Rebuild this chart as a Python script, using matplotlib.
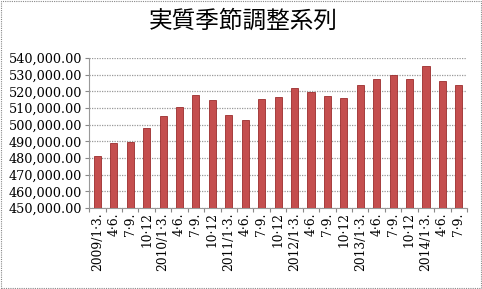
import matplotlib.pyplot as plt
from matplotlib.patches import Rectangle
from matplotlib.ticker import FuncFormatter

# 四半期ラベル
quarters = ["2009/1·3.", "4·6.", "7·9.", "10·12",
            "2010/1·3.", "4·6.", "7·9.", "10·12",
            "2011/1·3.", "4·6.", "7·9.", "10·12",
            "2012/1·3.", "4·6.", "7·9.", "10·12",
            "2013/1·3.", "4·6.", "7·9.", "10·12",
            "2014/1·3.", "4·6.", "7·9."]
values = [481200, 489000, 489600, 498000, 505200, 510600, 517800, 514800,
          505600, 502600, 515600, 516400, 522200, 519600, 517000, 516000,
          523800, 527600, 529600, 527600, 535200, 526000, 523800]
title = "実質季節調整系列"

fig = plt.figure(figsize=(4.82, 2.89), dpi=100)
ax = fig.add_axes([0.185, 0.280, 0.784, 0.519])

x = list(range(len(values)))
ax.bar(x, values, width=0.43, color='#C44E4E', edgecolor='#9B2D2D', linewidth=0.6, zorder=3)

ax.set_ylim(450000, 540000)
ax.set_yticks(range(450000, 540001, 10000))
ax.yaxis.set_major_formatter(FuncFormatter(lambda v, p: f"{v:,.2f}"))
ax.set_xlim(-0.5, len(values) - 0.5)

# 目盛は区切り位置、ラベルは中央
ax.set_xticks([i - 0.5 for i in range(len(values) + 1)])
ax.set_xticklabels([])
ax.set_xticks(x, minor=True)
ax.set_xticklabels(quarters, minor=True, rotation=90, family='DejaVu Serif', fontsize=8.8)
ax.tick_params(axis='x', which='minor', length=0, pad=3)
ax.tick_params(axis='x', which='major', length=3, color='#888888', direction='out')
ax.tick_params(axis='y', length=3, color='#888888', labelsize=9.2, pad=2)
for lbl in ax.get_yticklabels():
    lbl.set_family('DejaVu Serif')

ax.grid(axis='y', color='#999999', linewidth=0.9, linestyle=(0, (1, 1)), zorder=0)
for s in ['top', 'right']:
    ax.spines[s].set_visible(False)
for s in ['left', 'bottom']:
    ax.spines[s].set_color('#999999')

fig.text(0.505, 0.925, title, ha='center', va='center', fontsize=17,
         family=['Noto Sans CJK JP', 'DejaVu Sans'])

# 外枠（点線）
fig.patches.append(Rectangle((0.002, 0.003), 0.995, 0.994, transform=fig.transFigure,
                             fill=False, edgecolor='#888888', linewidth=0.8,
                             linestyle=(0, (1, 1))))

fig.savefig('out.png', dpi=100)
